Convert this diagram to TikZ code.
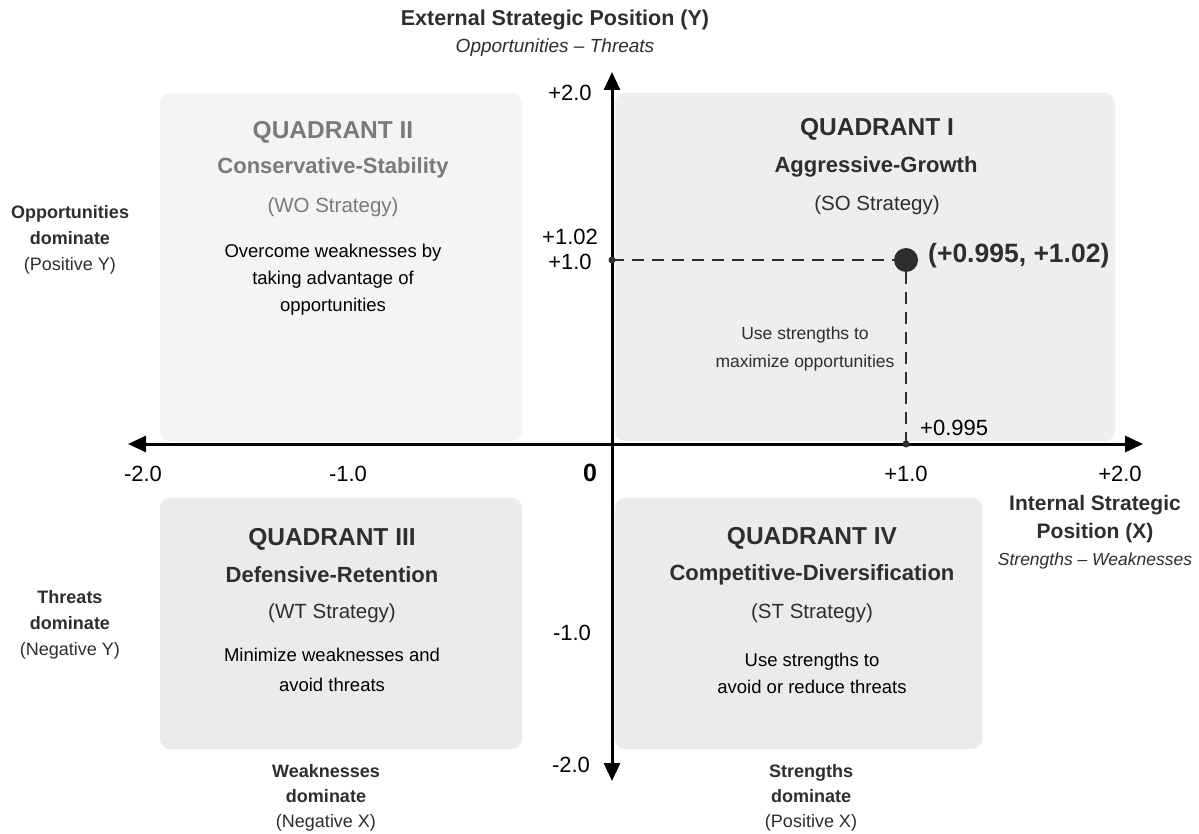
\documentclass[tikz,border=0pt]{standalone}
\usepackage{fontspec}
\setmainfont{Liberation Sans}
\usetikzlibrary{arrows.meta}
\definecolor{ink}{HTML}{2E2E2E}
\definecolor{faded}{HTML}{7A7A7A}
\definecolor{boxA}{HTML}{EEEEEE}
\definecolor{boxB}{HTML}{F4F4F4}
\definecolor{boxC}{HTML}{EBEBEB}
\newcommand{\fs}[1]{\fontsize{#1}{#1}\selectfont}
\tikzset{
  quadbox/.style={rounded corners=10pt, draw=none},
  qtitle/.style={font=\fs{24.5}\bfseries, text=ink, anchor=center},
  qsub/.style={font=\fs{22}\bfseries, text=ink, anchor=center},
  qstrat/.style={font=\fs{20.5}, text=ink, anchor=center},
  qbody/.style={font=\fs{18.5}, text=black, align=center, anchor=center, inner sep=0pt},
  ticklbl/.style={font=\fs{22}, text=black, anchor=center},
  sidelbl/.style={font=\fs{18}, text=ink, align=center, anchor=center, inner sep=0pt},
  axis/.style={line width=3pt, -{Triangle[length=18pt,width=16pt]}},
  guide/.style={line width=1.8pt, draw=ink, dash pattern=on 12pt off 8pt},
}
\begin{document}
\begin{tikzpicture}[x=1pt,y=-1pt]
\useasboundingbox[fill=white] (0,0) rectangle (1199,834);

% quadrant panels
\fill[quadbox, fill=boxA] (615,93) rectangle (1115,441);
\fill[quadbox, fill=boxB] (160,93) rectangle (522,441);
\fill[quadbox, fill=boxC] (160,498) rectangle (522,749);
\fill[quadbox, fill=boxC] (615,498) rectangle (982,749);

% axes
\coordinate (origin) at (612,444);
\coordinate (xneg) at (128,444);
\coordinate (xpos) at (1143,444);
\coordinate (ypos) at (612,72);
\coordinate (yneg) at (612,781);
\draw[axis] (origin) -- (xpos);
\draw[axis] (origin) -- (xneg);
\draw[axis] (origin) -- (ypos);
\draw[axis] (origin) -- (yneg);

% axis titles
\node[font=\fs{21.5}\bfseries, text=ink] (ytitle) at (555,20) {External Strategic Position (Y)};
\node[font=\fs{19}\itshape, text=ink] (ysub) at (555,48) {Opportunities -- Threats};
\node[font=\fs{21}\bfseries, text=ink, align=center, inner sep=0pt] (xtitle) at (1095,519)
  {Internal Strategic\\[7pt]Position (X)};
\node[font=\fs{17.5}\itshape, text=ink] (xsub) at (1095,561) {Strengths -- Weaknesses};

% tick labels
\node[ticklbl] (t1) at (570,93) {+2.0};
\node[ticklbl] (t2) at (570,237) {+1.02};
\node[ticklbl] (t3) at (570,262) {+1.0};
\node[ticklbl] (t4) at (572,633) {-1.0};
\node[ticklbl] (t5) at (571,765) {-2.0};
\node[font=\fs{25}\bfseries] (t0) at (590,473) {0};
\node[ticklbl] (t6) at (143,474) {-2.0};
\node[ticklbl] (t7) at (348,474) {-1.0};
\node[ticklbl] (t8) at (906,474) {+1.0};
\node[ticklbl] (t9) at (1120,474) {+2.0};

% plotted position
\coordinate (ymark) at (612,260);
\coordinate (xmark) at (906,444);
\node[circle, fill=ink, minimum size=24pt, inner sep=0pt] (pt) at (906,260) {};
\draw[guide] (ymark) -- (pt.west);
\draw[guide] (pt.south) -- (xmark);
\fill[ink] (ymark) circle (3.5pt);
\fill[ink] (xmark) circle (3.5pt);
\node[font=\fs{26.5}\bfseries, text=ink, anchor=west, inner sep=0pt] (ptlbl) at (928,256) {(+0.995, +1.02)};
\node[ticklbl, anchor=west, inner sep=0pt] (xval) at (920,428) {+0.995};
\node[font=\fs{17.5}, text=ink, align=center, inner sep=0pt] (q1note) at (805,349)
  {Use strengths to\\[10pt]maximize opportunities};

% quadrant I
\node[qtitle] (q1a) at (877,129) {QUADRANT I};
\node[qsub] (q1b) at (876,167) {Aggressive-Growth};
\node[qstrat] (q1c) at (877,205) {(SO Strategy)};

% quadrant II
\node[qtitle, text=faded] (q2a) at (333,132) {QUADRANT II};
\node[qsub, text=faded] (q2b) at (333,168) {Conservative-Stability};
\node[qstrat, text=faded] (q2c) at (333,207) {(WO Strategy)};
\node[qbody] (q2d) at (333,280) {Overcome weaknesses by\\[8.5pt]taking advantage of\\[8.5pt]opportunities};

% quadrant III
\node[qtitle] (q3a) at (332,539) {QUADRANT III};
\node[qsub] (q3b) at (332,575) {Defensive-Retention};
\node[qstrat] (q3c) at (332,613) {(WT Strategy)};
\node[qbody] (q3d) at (332,670) {Minimize weaknesses and\\[11pt]avoid threats};

% quadrant IV
\node[qtitle] (q4a) at (812,538) {QUADRANT IV};
\node[qsub] (q4b) at (812,575) {Competitive-Diversification};
\node[qstrat] (q4c) at (812,613) {(ST Strategy)};
\node[qbody] (q4d) at (812,673) {Use strengths to\\[8.5pt]avoid or reduce threats};

% side captions
\node[sidelbl] (s1) at (70,240) {\bfseries Opportunities\\[8pt]\bfseries dominate\\[8pt](Positive Y)};
\node[sidelbl] (s2) at (70,625) {\bfseries Threats\\[8pt]\bfseries dominate\\[8pt](Negative Y)};
\node[sidelbl] (s3) at (326,798) {\bfseries Weaknesses\\[7pt]\bfseries dominate\\[7pt](Negative X)};
\node[sidelbl] (s4) at (811,798) {\bfseries Strengths\\[7pt]\bfseries dominate\\[7pt](Positive X)};
\end{tikzpicture}
\end{document}
